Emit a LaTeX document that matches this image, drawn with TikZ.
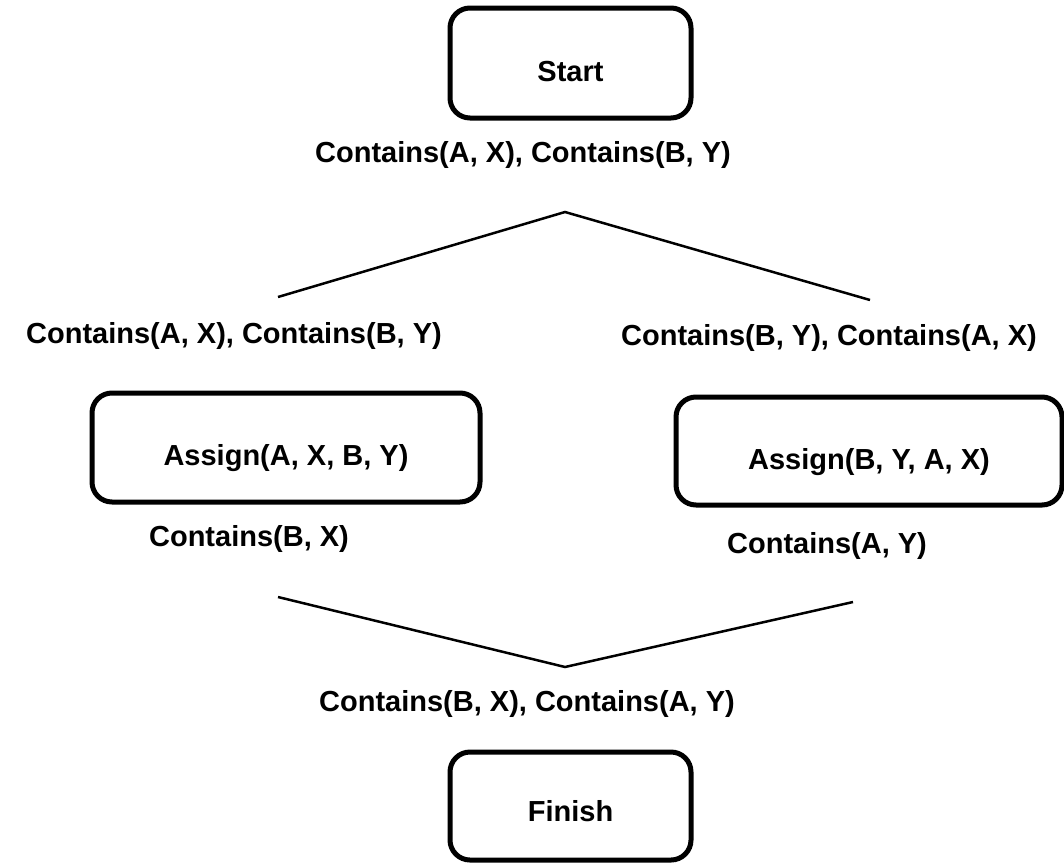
\documentclass[tikz,border=0pt]{standalone}
\usepackage{fontspec}
\setmainfont{Liberation Sans}
\begin{document}
\begin{tikzpicture}[x=1pt,y=-1pt,
  lbl/.style={font=\bfseries\fontsize{29}{34}\selectfont, inner sep=0pt},
  stepbox/.style={draw, line width=5pt, rounded corners=20pt, inner sep=0pt,
    text height=#1, text depth=0pt, font=\bfseries\fontsize{29}{34}\selectfont},
  link/.style={line width=2.5pt}]
\useasboundingbox (0,0) rectangle (1064,865);
% boxes
\node[stepbox=36pt, minimum width=241pt, minimum height=110pt] (start) at (570.5,63) {Start};
\node[stepbox=36pt, minimum width=388pt, minimum height=109pt] (a1) at (286,447.5) {Assign(A, X, B, Y)};
\node[stepbox=36pt, minimum width=386pt, minimum height=108pt] (a2) at (869,451) {Assign(B, Y, A, X)};
\node[stepbox=31pt, minimum width=241pt, minimum height=108pt] (finish) at (570.5,806) {Finish};
% condition labels
\node[lbl] (c0) at (523,155) {Contains(A, X), Contains(B, Y)};
\node[lbl] (c1) at (234,336) {Contains(A, X), Contains(B, Y)};
\node[lbl] (c2) at (829,338) {Contains(B, Y), Contains(A, X)};
\node[lbl] (e1) at (249,539) {Contains(B, X)};
\node[lbl] (e2) at (827,546) {Contains(A, Y)};
\node[lbl] (c3) at (527,704) {Contains(B, X), Contains(A, Y)};
% split and join lines
\coordinate (top) at (565,212);
\coordinate (tl) at (278,297);
\coordinate (tr) at (870,300);
\coordinate (bot) at (565,667);
\coordinate (bl) at (278,597);
\coordinate (br) at (853,602);
\draw[link] (tl) -- (top) -- (tr);
\draw[link] (bl) -- (bot) -- (br);
\end{tikzpicture}
\end{document}
